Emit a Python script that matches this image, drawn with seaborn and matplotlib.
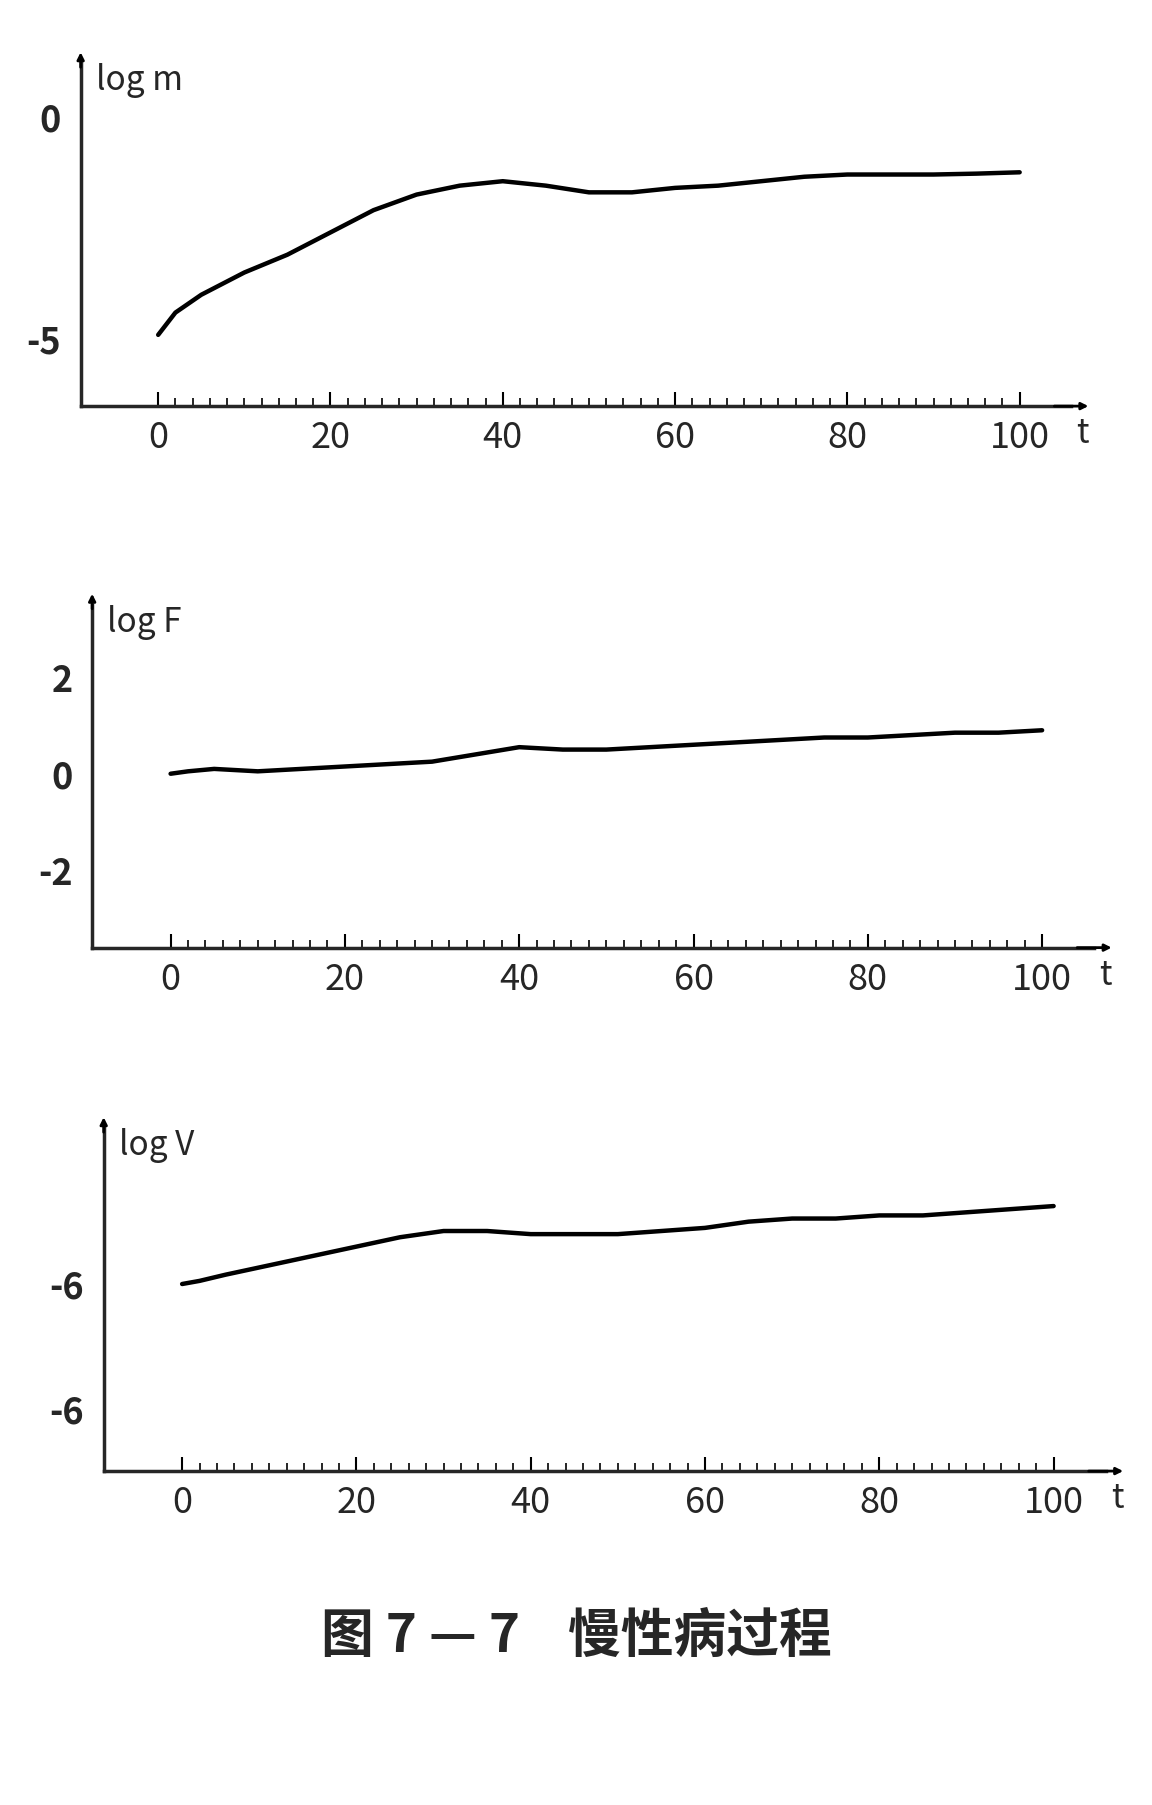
import matplotlib
matplotlib.use("Agg")
import matplotlib.pyplot as plt
import seaborn as sns
import numpy as np
import pandas as pd

sns.set_style("white")
plt.rcParams['font.family'] = ['Noto Sans CJK SC', 'DejaVu Sans']

t = [0, 2, 5, 10, 15, 20, 25, 30, 35, 40, 45, 50, 55, 60, 65, 70, 75, 80, 85, 90, 95, 100]
log_m = [-4.9, -4.4, -4.0, -3.5, -3.1, -2.6, -2.1, -1.75, -1.55, -1.45, -1.55, -1.7, -1.7, -1.6, -1.55, -1.45, -1.35, -1.3, -1.3, -1.3, -1.28, -1.25]
log_f = [0.0, 0.05, 0.1, 0.05, 0.1, 0.15, 0.2, 0.25, 0.4, 0.55, 0.5, 0.5, 0.55, 0.6, 0.65, 0.7, 0.75, 0.75, 0.8, 0.85, 0.85, 0.9]
log_v = [-6.0, -5.95, -5.85, -5.7, -5.55, -5.4, -5.25, -5.15, -5.15, -5.2, -5.2, -5.2, -5.15, -5.1, -5.0, -4.95, -4.95, -4.9, -4.9, -4.85, -4.8, -4.75]

panels = [
    (log_m, "log m", [0, -5], ["0", "-5"], (-6.5, 1.2), [0.07, 0.775, 0.86, 0.19]),
    (log_f, "log F", [2, 0, -2], ["2", "0", "-2"], (-3.6, 3.5), [0.08, 0.475, 0.87, 0.19]),
    (log_v, "log V", [-6, -8], ["-6", "-6"], (-9.0, -3.5), [0.09, 0.185, 0.87, 0.19]),
]

fig = plt.figure(figsize=(11.52, 18.05), dpi=100)
for vals, lab, yt, ytl, ylim, pos in panels:
    ax = fig.add_axes(pos)
    df = pd.DataFrame({"t": t, "y": vals})
    sns.lineplot(data=df, x="t", y="y", ax=ax, color="black", linewidth=3.2)
    ax.set_xlim(-9, 106)
    ax.set_ylim(*ylim)
    for s in ["top", "right"]:
        ax.spines[s].set_visible(False)
    ax.spines["left"].set_linewidth(2.5)
    ax.spines["bottom"].set_linewidth(2.5)
    ax.set_xticks([0, 20, 40, 60, 80, 100])
    ax.set_xticklabels(["0", "20", "40", "60", "80", "100"], fontsize=26)
    ax.set_xticks(np.arange(0, 101, 2), minor=True)
    ax.tick_params(axis="x", which="both", bottom=True, color="black")
    ax.tick_params(axis="x", which="major", direction="in", length=10, width=1.5, pad=10)
    ax.tick_params(axis="x", which="minor", direction="in", length=6, width=1.2)
    ax.set_yticks(yt)
    ax.set_yticklabels(ytl, fontsize=26, fontweight="bold")
    ax.tick_params(axis="y", length=0, pad=14)
    ax.set_xlabel("")
    ax.set_ylabel("")
    ax.text(1.005, -0.03, "t", transform=ax.transAxes, fontsize=24, va="top")
    ax.text(0.015, 1.0, lab, transform=ax.transAxes, fontsize=24, va="top")
    ax.annotate("", xy=(1.02, 0), xytext=(0.98, 0), xycoords="axes fraction",
                arrowprops=dict(arrowstyle="-|>", color="black", lw=2))
    ax.annotate("", xy=(0, 1.04), xytext=(0, 0.98), xycoords="axes fraction",
                arrowprops=dict(arrowstyle="-|>", color="black", lw=2))

fig.text(0.5, 0.085, "图 7 — 7    慢性病过程", ha="center", fontsize=38, fontweight="bold")
fig.savefig("out.png", dpi=100, facecolor="white")
